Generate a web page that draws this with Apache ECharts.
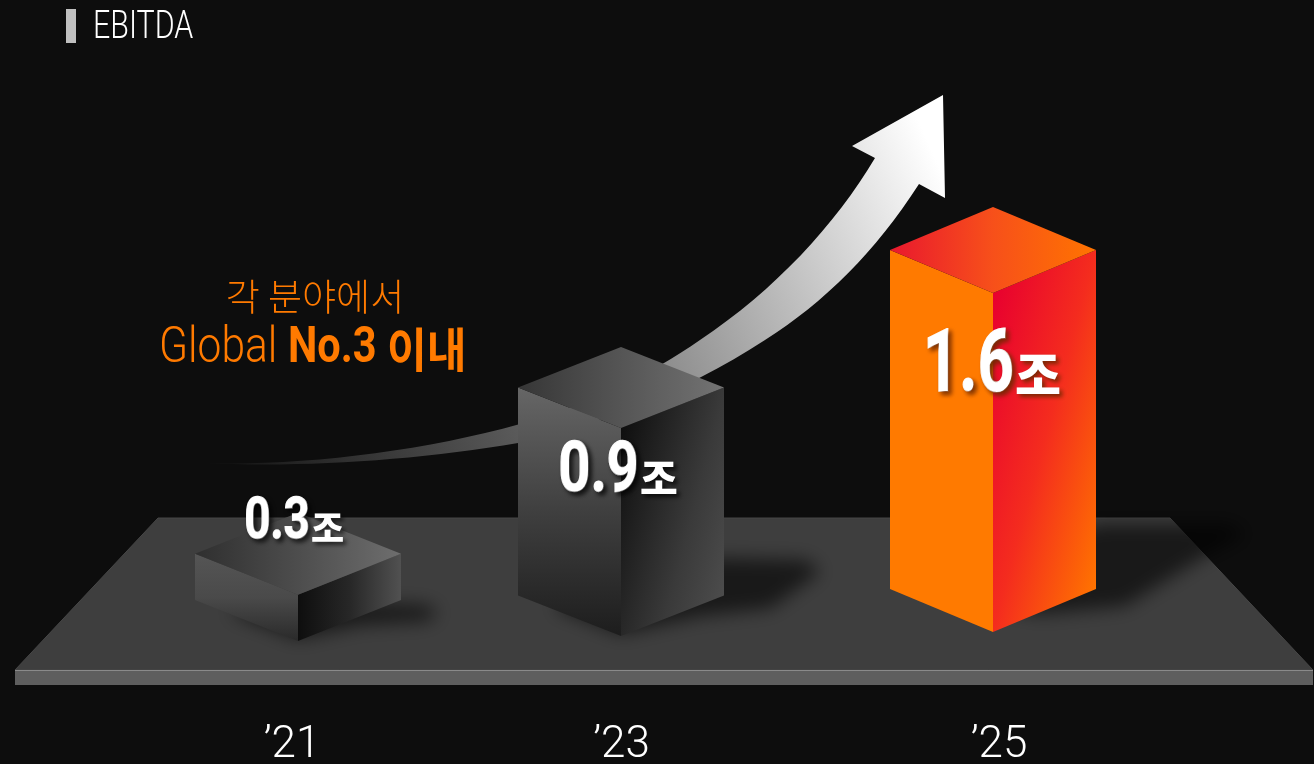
<!DOCTYPE html>
<html><head><meta charset="utf-8">
<style>html,body{margin:0;padding:0;background:#0d0d0d}#c{width:1314px;height:764px}</style>
<script src="https://cdn.jsdelivr.net/npm/echarts@6/dist/echarts.min.js"></script>
</head><body><div id="c"></div>
<script>
// ---- data ----
const years = ["’21", "’23", "’25"];
const ebitdaLabels = ["0.3", "0.9", "1.6"];
const unitLabel = "조";
// the drawing is not to scale: apparent box heights, in units where '23 = 0.9
const apparentHeights = [0.2, 0.9, 1.468];
const titleText = "EBITDA";
const noteLine1 = "각 분야에서";
// ---- styling ----
const LATIN = 'Roboto,"Liberation Sans",sans-serif';
const CJK = '"Noto Sans CJK KR",sans-serif';
const ORANGE = '#ff7a00';
const HALF_W = 103;
const depths = [41, 40.5, 43];
const baseNudge = [5, 0, -4];
const centerNudge = [0, -24.5, 0];
const labelShift = [[12, 0], [48, 0], [0, 12]]; // right/left padding that nudges axis labels
const numFont = [57, 70, 88], unitFont = [36, 41, 50];
const numScale = [.8, .8, .72];
const labelOffset = [[12, -71], [18, 45], [21, 76]];
const labelShadow = ['rgba(0,0,0,.65)', 'rgba(0,0,0,.75)', 'rgba(110,40,0,.9)'];
const shadows = [
  [[-70,-29],[0,-2],[62,-16],[130,-20],[140,-29],[128,-36],[102,-37],[2,-43]],
  [[-66,-28],[0,-2],[79,-20],[150,-28],[199,-64],[186,-76],[103,-78],[-21,-76]],
  [[-33,-34],[47,-18],[132,-26],[212,-76],[254,-98],[236,-108],[103,-108]]
];
const LG = (x, y, x2, y2, stops, global) => new echarts.graphic.LinearGradient(x, y, x2, y2,
  stops.map((c, i) => ({offset: i / (stops.length - 1), color: c})), global);
const faces = [
  (cx, top, base) => ({left: LG(.3,0,.3,1,['#555555','#4a4a4a','#2a2a2a']), right: LG(0,0,1,0,['#0e0e0e','#272727','#515151']), top: LG(0,.5,1,.5,['#2f2f2f','#4d4d4d','#6e6e6e'])}),
  (cx, top, base) => ({left: LG(.2,0,.2,1,['#666666','#3f3f3f','#1d1d1d']), right: LG(cx, top, cx + 176, top + 46, ['#0f0f0f','#3a3a3a','#5a5a5a'], true), top: LG(0,.5,1,.5,['#363636','#555555','#737373'])}),
  (cx, top, base) => ({left: ORANGE, right: LG(cx, top, cx + 170, top + 46, ['#e8002f','#f42c1e','#ff7300'], true), top: LG(0,.5,1,.5,['#e9182e','#f7501a','#ff7400'])})
];

const chart = echarts.init(document.getElementById('c'), null, {renderer: 'canvas'});

function renderBar(params, api) {
  const i = api.value(0);
  const p0 = api.coord([i, 0]), p1 = api.coord([i, api.value(1)]);
  const cx = p0[0] + centerNudge[i], base = p0[1] + baseNudge[i], h = p0[1] - p1[1], top = base - h;
  const DEPTH = depths[i];
  const poly = (pts, fill) => ({type: 'polygon', shape: {points: pts}, style: {fill: fill}, silent: true});
  const sh = {
    type: 'polygon', silent: true,
    shape: {points: shadows[i].map(o => [cx + o[0] - 3000, base + o[1]])},
    style: {fill: '#000', shadowBlur: 18, shadowColor: 'rgba(0,0,0,.6)', shadowOffsetX: 3000}
  };
  const f = faces[i](cx, top, base);
  const ax = cx + labelOffset[i][0], ay = top + labelOffset[i][1];
  const txt = (t, x, y, align, font, sx, bold) => ({
    type: 'text', x: x, y: y, scaleX: sx, silent: true,
    style: {
      text: t, x: 0, y: 0, align: align, verticalAlign: 'middle', fill: '#fff', font: font,
      stroke: bold ? '#fff' : undefined, lineWidth: bold ? bold : 0,
      textShadowColor: labelShadow[i], textShadowBlur: 4, textShadowOffsetX: 3, textShadowOffsetY: 3
    }
  });
  return {type: 'group', children: [
    sh,
    poly([[cx-HALF_W, top-DEPTH],[cx, top],[cx, base],[cx-HALF_W, base-DEPTH]], f.left),
    poly([[cx, top],[cx+HALF_W, top-DEPTH],[cx+HALF_W, base-DEPTH],[cx, base]], f.right),
    poly([[cx-HALF_W, top-DEPTH],[cx, top-2*DEPTH],[cx+HALF_W, top-DEPTH],[cx, top]], f.top),
    txt(ebitdaLabels[i], ax, ay, 'right', '700 ' + numFont[i] + 'px ' + LATIN, numScale[i], 1.5),
    txt(unitLabel, ax + 1, ay + unitFont[i] * .12, 'left', '900 ' + unitFont[i] + 'px ' + CJK, 1, 0)
  ]};
}

const ARROW = 'M205 463 C300 466 420 452 520 424 C590 404 650 375 700 340 C775 290 835 225 875 158 L852 146 L943 95 L945 198 L919 184 C875 252 825 302 765 340 C680 395 600 423 518 443 C420 460 300 468 205 463 Z';

const rich = {};
years.forEach((y, i) => { rich['y' + i] = {padding: [0, labelShift[i][0], 0, labelShift[i][1]]}; });

chart.setOption({
  backgroundColor: '#0d0d0d',
  animation: false,
  grid: {left: 124.25, right: 147.25, top: 174, bottom: 128, outerBoundsMode: 'none'},
  xAxis: {
    type: 'category', data: years,
    axisLine: {show: false}, axisTick: {show: false}, splitLine: {show: false},
    axisLabel: {
      margin: 88, color: '#fff', fontFamily: LATIN, fontSize: 44, fontWeight: 300,
      formatter: (v, i) => '{y' + i + '|' + v + '}', rich: rich
    }
  },
  yAxis: {type: 'value', min: 0, max: 2, show: false},
  graphic: {elements: [
    {type: 'rect', z: 1, shape: {x: 66, y: 9, width: 10, height: 34}, style: {fill: '#c0c0c0'}},
    {type: 'text', z: 3, x: 93, y: 28, scaleX: .8, style: {text: titleText, align: 'left', verticalAlign: 'middle', fill: '#fff', font: '300 38px ' + LATIN}},
    // platform
    {type: 'polygon', z: 1, shape: {points: [[158,518],[1170,518],[1313,670],[15,670]]}, style: {fill: '#3e3e3e', stroke: '#464646', lineWidth: 1}},
    {type: 'rect', z: 1, shape: {x: 15, y: 670, width: 1298, height: 15}, style: {fill: '#5e5e5e'}},
    {type: 'rect', z: 1, shape: {x: 15, y: 670, width: 1298, height: 1}, style: {fill: '#8a8a8a'}},
    // annotation
    {type: 'text', z: 3, x: 315, y: 297, style: {text: noteLine1, align: 'center', verticalAlign: 'middle', fill: ORANGE, font: '300 37px ' + CJK}},
    {type: 'text', z: 3, x: 159, y: 349, scaleX: .85, style: {text: 'Global', align: 'left', verticalAlign: 'middle', fill: ORANGE, font: '300 50px ' + LATIN}},
    {type: 'text', z: 3, x: 288, y: 349, scaleX: .83, style: {text: 'No.3', align: 'left', verticalAlign: 'middle', fill: ORANGE, font: '700 50px ' + LATIN}},
    {type: 'text', z: 3, x: 387, y: 349, scaleX: .92, style: {text: '이내', align: 'left', verticalAlign: 'middle', fill: ORANGE, font: '700 47px ' + CJK}}
  ]},
  series: [{
    type: 'custom', coordinateSystem: 'cartesian2d', z: 2, clip: false, silent: true,
    encode: {x: 0, y: 1},
    renderItem: () => ({
      type: 'path', shape: {pathData: ARROW}, silent: true,
      style: {fill: new echarts.graphic.LinearGradient(205, 463, 925, 135, [
        {offset: 0, color: '#0f0f0f'}, {offset: .4, color: '#5f5f5f'}, {offset: .65, color: '#a0a0a0'}, {offset: 1, color: '#ffffff'}
      ], true)}
    }),
    data: [[0, 0]]
  }, {
    type: 'custom', coordinateSystem: 'cartesian2d', z: 5, clip: false,
    renderItem: renderBar,
    encode: {x: 0, y: 1},
    data: years.map((y, i) => [i, apparentHeights[i]])
  }]
});
</script></body></html>
